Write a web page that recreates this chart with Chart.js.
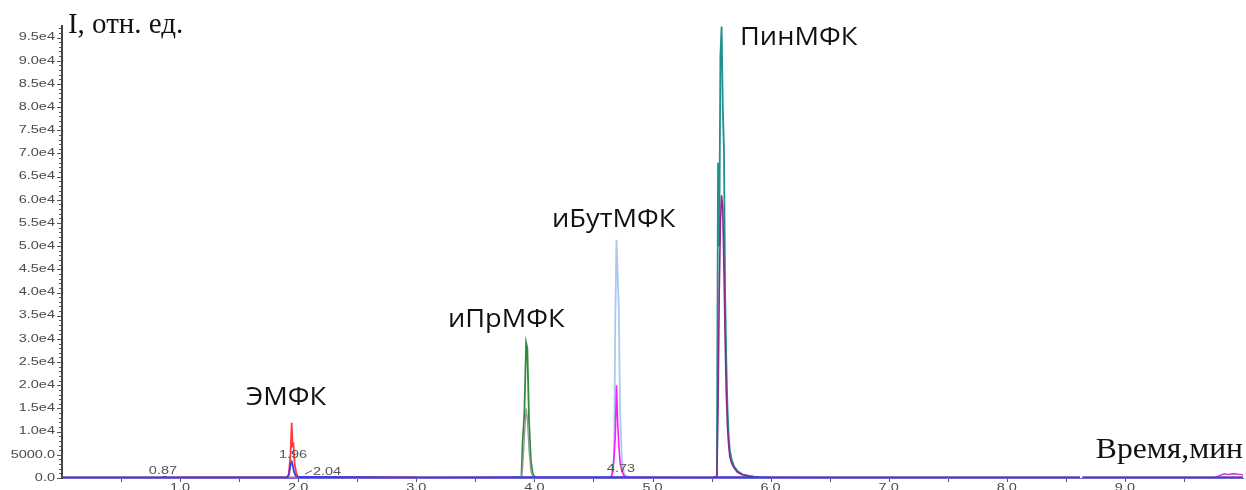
<!DOCTYPE html>
<html>
<head>
<meta charset="utf-8">
<script src="https://cdn.jsdelivr.net/npm/chart.js@4.4.1/dist/chart.umd.min.js"></script>
<style>
  html, body { margin: 0; padding: 0; background: #fff; overflow: hidden; }
  #wrap { width: 1246px; height: 490px; position: relative; }
</style>
</head>
<body>
<div id="wrap"><canvas id="chrom"></canvas></div>
<script>
// Retention time axis (min) and intensity axis (rel. units)
const xMin = 0, xMax = 10;
const yMin = 0, yMax = 97500;
const xTickLabels = ['1.0', '2.0', '3.0', '4.0', '5.0', '6.0', '7.0', '8.0', '9.0'];
const yTickLabels = ['0.0', '5000.0', '1.0e4', '1.5e4', '2.0e4', '2.5e4', '3.0e4', '3.5e4', '4.0e4',
  '4.5e4', '5.0e4', '5.5e4', '6.0e4', '6.5e4', '7.0e4', '7.5e4', '8.0e4', '8.5e4', '9.0e4', '9.5e4'];

// Baseline trace (blue) with the small peak near 1.96 min; null marks a break in the record
const baseTime = [0, 0.5, 0.85, 0.87, 0.89, 1.5, 1.91, 1.925, 1.935, 1.945, 1.955, 1.965, 1.98, 2.0, 2.04, 3.0, 3.9, 4.7, 5.5, 5.6, 6.5, 7.5, 8.62, 8.63, 8.64, 9.5, 10];
const baseVal  = [150, 150, 150, 300, 150, 150, 150, 1200, 3000, 3500, 2600, 1300, 400, 200, 250, 150, 200, 200, 150, 200, 150, 150, 150, null, 150, 150, 150];

// ЭМФК, red trace
const emfkTime = [1.0, 1.90, 1.92, 1.935, 1.945, 1.952, 1.96, 1.97, 1.985, 2.0, 2.03, 3.0];
const emfkVal  = [120, 120, 600, 5200, 11900, 7000, 7300, 3000, 900, 300, 150, 120];

// иПрМФК, green and grey traces
const iprTime  = [3.80, 3.89, 3.90, 3.915, 3.93, 3.94, 3.955, 3.97, 3.985, 4.0, 4.02, 4.10];
const iprGreen = [0, 200, 7500, 14000, 29200, 28000, 12000, 3900, 1000, 300, 100, 0];
const iprGrey  = [0, 100, 2000, 9000, 15000, 13000, 6000, 1500, 400, 100, 0, 0];

// иБутМФК, light blue and magenta traces
const ibutTime    = [4.60, 4.65, 4.665, 4.675, 4.685, 4.695, 4.705, 4.715, 4.725, 4.74, 4.76, 4.80];
const ibutLight   = [0, 300, 1500, 5000, 34500, 51400, 44000, 36000, 15000, 4000, 800, 0];
const ibutMagenta = [0, 100, 1500, 5000, 9000, 20000, 12000, 7000, 3500, 1500, 400, 0];

// ПинМФК, teal and purple traces
const pinTime   = [5.50, 5.545, 5.555, 5.565, 5.575, 5.585, 5.595, 5.605, 5.615, 5.625, 5.635, 5.645, 5.655, 5.67, 5.69, 5.72, 5.76, 5.82, 5.90, 6.0];
const pinTeal   = [0, 300, 68000, 50000, 91000, 97400, 80000, 71000, 40000, 25000, 15000, 9000, 6000, 4000, 2500, 1500, 800, 400, 150, 0];
const pinPurple = [0, 300, 15000, 40000, 55000, 61000, 58000, 45000, 30000, 18000, 11000, 7000, 4500, 3200, 2200, 1200, 700, 400, 100, 0];

// Small late-eluting hump at the end of the run
const tailTime = [9.76, 9.80, 9.84, 9.88, 9.92, 9.96, 10.0];
const tailVal  = [100, 500, 900, 750, 950, 800, 700];

// Compound names and axis captions, positioned in data units
const compoundLabels = [
  { text: 'ЭМФК',    x: 1.558, y: 15760 },
  { text: 'иПрМФК',  x: 3.268, y: 32600 },
  { text: 'иБутМФК', x: 4.149, y: 54190 },
  { text: 'ПинМФК',  x: 5.741, y: 93480 }
];
const yCaption = { text: 'I, отн. ед.', x: 0.05, y: 96070 };
const xCaption = { text: 'Время,мин', x: 10.0, y: 4320 };

// Retention-time annotations printed next to peaks
const rtLabels = [
  { text: '0.87', x: 0.855, y: 1400 },
  { text: '1.96', x: 1.956, y: 4970 },
  { text: '2.04', x: 2.244, y: 1300, leader: [2.057, 860, 2.117, 1600] },
  { text: '4.73', x: 4.733, y: 1940 }
];

function pts(t, v) { return t.map((x, i) => ({ x: x, y: v[i] })); }

function trace(label, t, v, color, width, order) {
  return {
    label: label, data: pts(t, v), showLine: true, borderColor: color,
    borderWidth: width, pointRadius: 0, tension: 0, spanGaps: false,
    order: order, fill: false
  };
}

// Text with a horizontal stretch
function stretched(ctx, text, x, y, align, baseline, sx) {
  ctx.save();
  ctx.translate(x, y);
  ctx.scale(sx, 1);
  ctx.textAlign = align;
  ctx.textBaseline = baseline;
  ctx.fillText(text, 0, 0);
  ctx.restore();
}

const SX = 1.45;

const decorations = {
  id: 'decorations',
  afterDraw(chart) {
    const ctx = chart.ctx;
    const xs = chart.scales.x, ys = chart.scales.y;
    const area = chart.chartArea;

    // y axis: minor ticks each 1000, major each 5000
    ctx.save();
    ctx.strokeStyle = '#555';
    ctx.lineWidth = 1;
    for (let v = 0; v <= 97000; v += 1000) {
      const py = Math.round(ys.getPixelForValue(v)) + 0.5;
      const len = (v % 5000 === 0) ? 4 : 2;
      ctx.beginPath();
      ctx.moveTo(area.left - 1, py);
      ctx.lineTo(area.left - 1 - len, py);
      ctx.stroke();
    }
    // x axis: ticks each 0.5 min
    for (let t = 0.5; t < xMax; t += 0.5) {
      const px = Math.round(xs.getPixelForValue(t)) + 0.5;
      ctx.beginPath();
      ctx.moveTo(px, area.bottom + 1);
      ctx.lineTo(px, area.bottom + 4);
      ctx.stroke();
    }

    // tick numbers
    ctx.fillStyle = '#4a4a4a';
    ctx.font = '10px "Liberation Sans", Arial, sans-serif';
    yTickLabels.forEach((lab, i) => {
      stretched(ctx, lab, area.left - 7, ys.getPixelForValue(i * 5000), 'right', 'middle', SX);
    });
    xTickLabels.forEach((lab) => {
      stretched(ctx, lab, xs.getPixelForValue(parseFloat(lab)), area.bottom + 5, 'center', 'top', SX);
    });

    // retention times
    ctx.fillStyle = '#555';
    rtLabels.forEach((r) => {
      if (r.leader) {
        ctx.beginPath();
        ctx.moveTo(xs.getPixelForValue(r.leader[0]), ys.getPixelForValue(r.leader[1]));
        ctx.lineTo(xs.getPixelForValue(r.leader[2]), ys.getPixelForValue(r.leader[3]));
        ctx.stroke();
      }
      stretched(ctx, r.text, xs.getPixelForValue(r.x), ys.getPixelForValue(r.y), 'center', 'middle', SX);
    });

    // compound names
    ctx.fillStyle = '#111';
    ctx.font = '25px "Open Sans", "Liberation Sans", sans-serif';
    compoundLabels.forEach((c) => {
      stretched(ctx, c.text, xs.getPixelForValue(c.x), ys.getPixelForValue(c.y), 'left', 'alphabetic', 1.09);
    });

    // axis captions
    ctx.font = '29px "Liberation Serif", "Times New Roman", serif';
    stretched(ctx, yCaption.text, xs.getPixelForValue(yCaption.x), ys.getPixelForValue(yCaption.y), 'left', 'alphabetic', 1.0);
    stretched(ctx, xCaption.text, xs.getPixelForValue(xCaption.x), ys.getPixelForValue(xCaption.y), 'right', 'alphabetic', 1.09);
    ctx.restore();
  }
};

new Chart(document.getElementById('chrom'), {
  type: 'scatter',
  data: {
    datasets: [
      trace('baseline-red', [0, 8.62], [120, 120], '#ff5050', 2, 9),
      trace('baseline-red-2', [8.64, 10], [120, 120], '#ff5050', 2, 9),
      trace('ЭМФК', emfkTime, emfkVal, '#ff3a3a', 1.8, 8),
      trace('baseline', baseTime, baseVal, '#3b3bf0', 1.8, 3),
      trace('иПрМФК', iprTime, iprGreen, '#2e8b3a', 1.8, 7),
      trace('иПрМФК-2', iprTime, iprGrey, '#9a9a9a', 1.4, 6),
      trace('иБутМФК', ibutTime, ibutLight, '#a9c9ee', 1.8, 7),
      trace('иБутМФК-2', ibutTime, ibutMagenta, '#ff1aff', 1.6, 6),
      trace('ПинМФК', pinTime, pinTeal, '#1f8f8f', 1.8, 7),
      trace('ПинМФК-2', pinTime, pinPurple, '#8a2a8a', 1.6, 6),
      trace('tail', tailTime, tailVal, '#d040d0', 1.6, 5)
    ]
  },
  options: {
    responsive: true,
    maintainAspectRatio: false,
    animation: false,
    layout: { padding: { top: 26, right: 3, left: 0, bottom: 0 } },
    plugins: { legend: { display: false }, tooltip: { enabled: false } },
    scales: {
      x: {
        type: 'linear', min: xMin, max: xMax,
        grid: { display: false },
        border: { display: true, color: '#6a6ad0', width: 1 },
        ticks: { display: false },
        afterFit(scale) { scale.height = 12; }
      },
      y: {
        type: 'linear', min: yMin, max: yMax,
        grid: { display: false },
        border: { display: true, color: '#444', width: 2 },
        ticks: { display: false },
        afterFit(scale) { scale.width = 62; }
      }
    }
  },
  plugins: [decorations]
});
</script>
</body>
</html>
